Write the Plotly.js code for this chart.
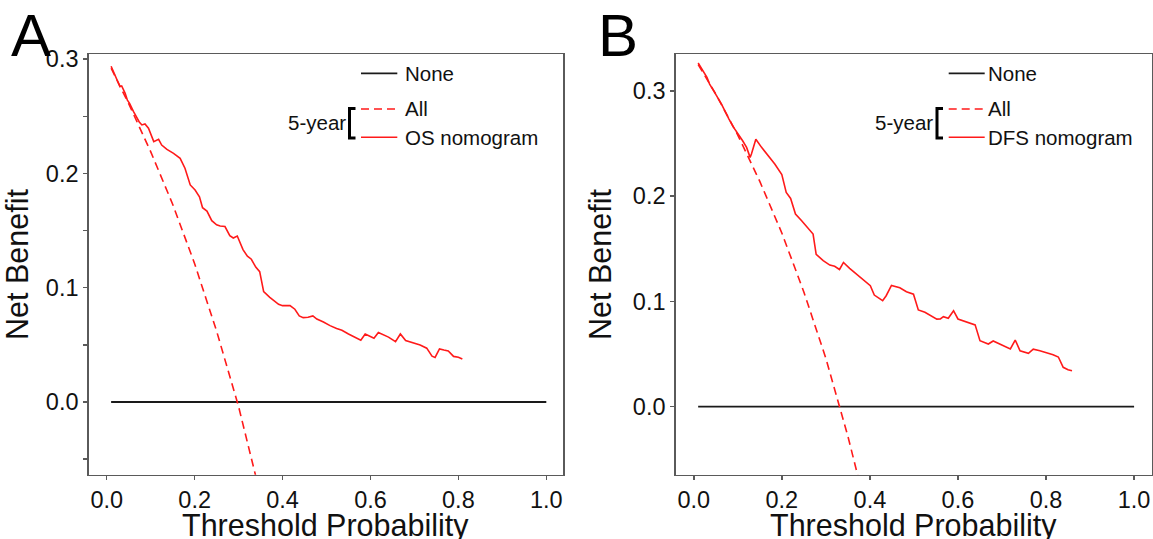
<!DOCTYPE html>
<html>
<head>
<meta charset="utf-8">
<script src="https://cdn.plot.ly/plotly-3.0.1.min.js"></script>
<style>
  html, body { margin: 0; padding: 0; background: #ffffff; }
  #chart { width: 1153px; height: 539px; }
</style>
</head>
<body>
<div id="chart"></div>
<script>
// ---------- Panel A (OS) ----------
const noneX = [0.01, 1.0];
const noneY = [0, 0];

const allA_X = [0.01, 0.05, 0.10, 0.15, 0.20, 0.25, 0.30, 0.35];
const allA_Y = [0.292, 0.261, 0.219, 0.173, 0.121, 0.062, -0.004, -0.082];

const osX = [0.01, 0.019, 0.026, 0.030, 0.034, 0.042, 0.047, 0.052, 0.061, 0.074,
             0.080, 0.087, 0.095, 0.100, 0.107, 0.118, 0.125, 0.137, 0.152, 0.167,
             0.178, 0.190, 0.201, 0.211, 0.218, 0.228, 0.239, 0.250, 0.258, 0.269,
             0.280, 0.288, 0.297, 0.310, 0.320, 0.329, 0.339, 0.348, 0.357, 0.371,
             0.381, 0.391, 0.400, 0.417, 0.428, 0.438, 0.447, 0.458, 0.469, 0.478,
             0.493, 0.508, 0.523, 0.535, 0.550, 0.565, 0.578, 0.588, 0.599, 0.608,
             0.618, 0.630, 0.641, 0.657, 0.668, 0.680, 0.698, 0.713, 0.728, 0.740,
             0.747, 0.757, 0.767, 0.777, 0.789, 0.800, 0.809];
const osY = [0.2937, 0.286, 0.280, 0.276, 0.2765, 0.270, 0.264, 0.2613, 0.254, 0.245,
             0.2424, 0.2433, 0.2395, 0.235, 0.2278, 0.2298, 0.2248, 0.221, 0.2175, 0.2132,
             0.2045, 0.1899, 0.1855, 0.1795, 0.170, 0.167, 0.1586, 0.155, 0.154, 0.1535,
             0.1455, 0.1435, 0.1452, 0.1333, 0.1276, 0.1249, 0.118, 0.114, 0.0965, 0.0916,
             0.0885, 0.0855, 0.0843, 0.0843, 0.0812, 0.0753, 0.0738, 0.0741, 0.0753, 0.0726,
             0.0700, 0.0668, 0.0644, 0.0627, 0.0595, 0.0563, 0.0540, 0.0595, 0.0574, 0.0558,
             0.0608, 0.0585, 0.0568, 0.0528, 0.0595, 0.0537, 0.0516, 0.0499, 0.0471, 0.0401,
             0.0390, 0.0464, 0.0455, 0.0447, 0.0399, 0.0391, 0.0376];

// ---------- Panel B (DFS) ----------
const allB_X = [0.01, 0.05, 0.10, 0.15, 0.20, 0.25, 0.30, 0.35, 0.38];
const allB_Y = [0.325, 0.297, 0.258, 0.214, 0.165, 0.109, 0.046, -0.028, -0.078];

const dfsX = [0.010, 0.021, 0.030, 0.036, 0.042, 0.051, 0.063, 0.070, 0.080, 0.089,
              0.101, 0.111, 0.120, 0.128, 0.131, 0.141, 0.154, 0.169, 0.184, 0.200,
              0.210, 0.220, 0.231, 0.245, 0.260, 0.271, 0.278, 0.294, 0.309, 0.320,
              0.331, 0.340, 0.354, 0.373, 0.388, 0.401, 0.410, 0.429, 0.437, 0.449,
              0.468, 0.483, 0.499, 0.510, 0.525, 0.540, 0.552, 0.560, 0.567, 0.578,
              0.590, 0.600, 0.616, 0.627, 0.639, 0.650, 0.669, 0.680, 0.695, 0.710,
              0.719, 0.730, 0.741, 0.760, 0.771, 0.786, 0.799, 0.816, 0.828, 0.839,
              0.850, 0.859];
const dfsY = [0.3264, 0.319, 0.3128, 0.3064, 0.3017, 0.296, 0.2874, 0.2811, 0.2732, 0.2662,
              0.259, 0.2526, 0.2463, 0.2368, 0.240, 0.254, 0.2463, 0.2384, 0.2305, 0.2205,
              0.2035, 0.1978, 0.183, 0.1766, 0.1697, 0.164, 0.1447, 0.1387, 0.1345, 0.1333,
              0.1303, 0.137, 0.1314, 0.125, 0.1197, 0.1149, 0.106, 0.1007, 0.1054, 0.1151,
              0.1130, 0.1092, 0.1068, 0.0919, 0.0896, 0.0864, 0.0832, 0.0833, 0.0855, 0.0840,
              0.0912, 0.0833, 0.081, 0.0795, 0.0777, 0.0627, 0.0595, 0.0624, 0.0595, 0.0573,
              0.0548, 0.0633, 0.0530, 0.0507, 0.0546, 0.0532, 0.0517, 0.0494, 0.0472, 0.0374,
              0.0351, 0.0342];

// ---------- labels ----------
const xTitle = 'Threshold Probability';
const yTitle = 'Net Benefit';
const panelLetters = ['A', 'B'];
const legendNone = 'None';
const legendAll = 'All';
const legendModels = ['OS nomogram', 'DFS nomogram'];
const groupLabel = '5-year';

// ---------- geometry helpers (pixel -> paper) ----------
const W = 1153, H = 539;
const fx = p => p / W;
const fy = p => 1 - p / H;

const FONT = 'Liberation Sans, Arial, Helvetica, sans-serif';
const RED = '#ff1a1a';
const BOX = '#5a5a5a';

const traces = [
  {x: noneX, y: noneY, xaxis: 'x', yaxis: 'y', mode: 'lines', line: {color: '#1a1a1a', width: 1.8}, name: legendNone},
  {x: allA_X, y: allA_Y, xaxis: 'x', yaxis: 'y', mode: 'lines', line: {color: RED, width: 1.6, dash: '8px,5px'}, name: legendAll},
  {x: osX, y: osY, xaxis: 'x', yaxis: 'y', mode: 'lines', line: {color: RED, width: 1.6}, name: legendModels[0]},
  {x: noneX, y: noneY, xaxis: 'x2', yaxis: 'y2', mode: 'lines', line: {color: '#1a1a1a', width: 1.8}, name: legendNone},
  {x: allB_X, y: allB_Y, xaxis: 'x2', yaxis: 'y2', mode: 'lines', line: {color: RED, width: 1.6, dash: '8px,5px'}, name: legendAll},
  {x: dfsX, y: dfsY, xaxis: 'x2', yaxis: 'y2', mode: 'lines', line: {color: RED, width: 1.6}, name: legendModels[1]}
];

function xAxis(domain, range) {
  return {
    domain: domain, range: range, showgrid: false, zeroline: false,
    showline: true, mirror: true, linecolor: BOX, linewidth: 1.5,
    ticks: 'outside', ticklen: 4, tickwidth: 1.5, tickcolor: BOX,
    tick0: 0, dtick: 0.2, tickformat: '.1f',
    tickfont: {family: FONT, size: 23.5, color: '#111'}
  };
}
function yAxis(domain, range, minor) {
  const a = {
    domain: domain, range: range, showgrid: false, zeroline: false,
    showline: true, mirror: true, linecolor: BOX, linewidth: 1.5,
    ticks: 'outside', ticklen: 4, tickwidth: 1.5, tickcolor: BOX,
    tick0: 0, dtick: 0.1, tickformat: '.1f',
    tickfont: {family: FONT, size: 23.5, color: '#111'},
    title: {text: yTitle, font: {family: FONT, size: 30.5, color: '#111'}, standoff: 12}
  };
  if (minor) a.minor = {dtick: 0.05, tick0: 0, ticks: 'outside', ticklen: 4, tickwidth: 1.5, tickcolor: BOX, showgrid: false};
  return a;
}

const yDom = [fy(474.7), fy(54.3)];
const xDomA = [fx(88.7), fx(563)];
const xDomB = [fx(675.7), fx(1151.7)];

// legend decorations
function legendBlock(segL, segR, textL, labL, brX, model) {
  const shapes = [
    {type: 'line', xref: 'paper', yref: 'paper', x0: fx(segL), x1: fx(segR), y0: fy(73.3), y1: fy(73.3), line: {color: '#1a1a1a', width: 1.8}},
    {type: 'line', xref: 'paper', yref: 'paper', x0: fx(segL), x1: fx(segR), y0: fy(109), y1: fy(109), line: {color: RED, width: 1.6, dash: '8px,5px'}},
    {type: 'line', xref: 'paper', yref: 'paper', x0: fx(segL), x1: fx(segR), y0: fy(137.3), y1: fy(137.3), line: {color: RED, width: 1.6}},
    {type: 'path', xref: 'paper', yref: 'paper',
     path: 'M ' + fx(brX + 6) + ' ' + fy(108.5) + ' L ' + fx(brX) + ' ' + fy(108.5) + ' L ' + fx(brX) + ' ' + fy(138) + ' L ' + fx(brX + 6) + ' ' + fy(138),
     line: {color: '#000', width: 3}}
  ];
  const f = {family: FONT, size: 20.5, color: '#111'};
  const ann = [
    {xref: 'paper', yref: 'paper', x: fx(textL), y: fy(73.3), text: legendNone, showarrow: false, xanchor: 'left', yanchor: 'middle', font: f, borderpad: 0},
    {xref: 'paper', yref: 'paper', x: fx(textL), y: fy(109), text: legendAll, showarrow: false, xanchor: 'left', yanchor: 'middle', font: f, borderpad: 0},
    {xref: 'paper', yref: 'paper', x: fx(textL), y: fy(137.3), text: model, showarrow: false, xanchor: 'left', yanchor: 'middle', font: f, borderpad: 0},
    {xref: 'paper', yref: 'paper', x: fx(labL), y: fy(122.3), text: groupLabel, showarrow: false, xanchor: 'right', yanchor: 'middle', font: f, borderpad: 0}
  ];
  return {shapes, ann};
}

const legA = legendBlock(361, 397.3, 404, 347, 349.5, legendModels[0]);
const legB = legendBlock(948.7, 984.7, 987, 934, 937, legendModels[1]);

const letterFont = {family: FONT, size: 60, color: '#000'};
const titleFont = {family: FONT, size: 30.5, color: '#111'};
const annotations = [
  {xref: 'paper', yref: 'paper', x: fx(10), y: fy(35), text: panelLetters[0], showarrow: false, xanchor: 'left', yanchor: 'middle', font: letterFont, borderpad: 0},
  {xref: 'paper', yref: 'paper', x: fx(597), y: fy(35), text: panelLetters[1], showarrow: false, xanchor: 'left', yanchor: 'middle', font: letterFont, borderpad: 0},
  {xref: 'paper', yref: 'paper', x: (xDomA[0] + xDomA[1]) / 2, y: fy(525), text: xTitle, showarrow: false, xanchor: 'center', yanchor: 'middle', font: titleFont, borderpad: 0},
  {xref: 'paper', yref: 'paper', x: (xDomB[0] + xDomB[1]) / 2, y: fy(525), text: xTitle, showarrow: false, xanchor: 'center', yanchor: 'middle', font: titleFont, borderpad: 0}
].concat(legA.ann, legB.ann);

const layout = {
  width: W, height: H,
  margin: {l: 0, r: 0, t: 0, b: 0},
  paper_bgcolor: '#ffffff', plot_bgcolor: '#ffffff',
  showlegend: false,
  font: {family: FONT, color: '#111'},
  xaxis: Object.assign(xAxis(xDomA, [-0.041, 1.038]), {anchor: 'y'}),
  yaxis: Object.assign(yAxis(yDom, [-0.0636, 0.3042], true), {anchor: 'x'}),
  xaxis2: Object.assign(xAxis(xDomB, [-0.041, 1.040]), {anchor: 'y2'}),
  yaxis2: Object.assign(yAxis(yDom, [-0.0646, 0.3347], false), {anchor: 'x2'}),
  shapes: legA.shapes.concat(legB.shapes),
  annotations: annotations
};

Plotly.newPlot('chart', traces, layout, {displayModeBar: false, staticPlot: true});
</script>
</body>
</html>
